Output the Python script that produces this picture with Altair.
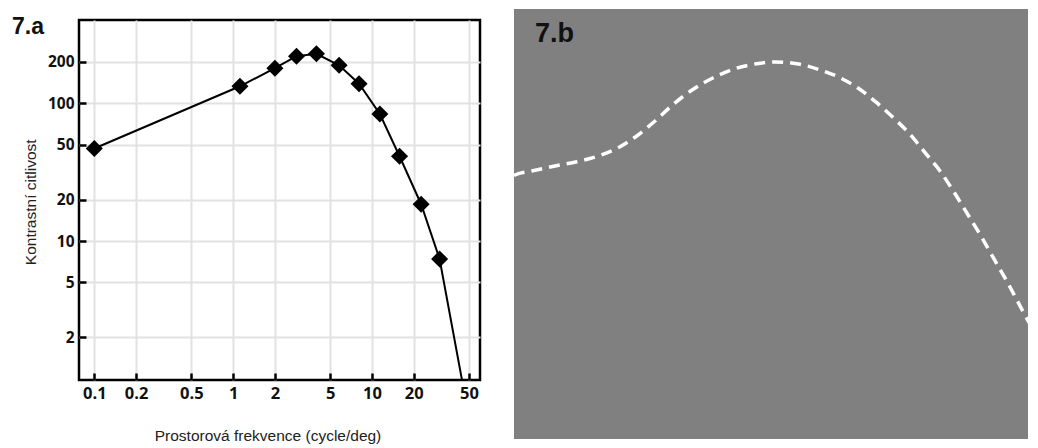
import altair as alt
import pandas as pd

# ---- 7.a : contrast sensitivity function (log-log) ----
freq = [0.1, 1.12, 2.0, 2.86, 3.98, 5.8, 8.07, 11.4, 15.8, 22.6, 30.7]
sens = [47, 133, 180, 220, 229, 189, 139, 83.6, 41.3, 18.5, 7.4]
tail_freq = [44.5]
tail_sens = [0.98]

x_ticks = [0.1, 0.2, 0.5, 1, 2, 5, 10, 20, 50]
y_ticks = [2, 5, 10, 20, 50, 100, 200]

x_title = "Prostorová frekvence (cycle/deg)"
y_title = "Kontrastní citlivost"
label_a = ["7.a"]
label_b = ["7.b"]

# ---- 7.b : dashed CSF curve over the grating (percent of panel) ----
curve_x = [0.0, 0.19, 3.38, 7.82, 11.97, 16.09, 19.90, 23.42, 26.91, 30.40, 33.91,
           38.03, 42.18, 46.32, 49.81, 53.95, 58.07, 62.21, 65.71, 69.22, 72.39,
           75.57, 78.44, 81.30, 83.84, 86.39, 88.93, 91.47, 94.03, 96.24, 98.47, 99.62]
curve_y = [38.95, 38.84, 37.95, 36.83, 35.87, 34.60, 32.74, 30.13, 26.79, 23.06, 19.93,
           17.12, 15.11, 14.00, 13.62, 14.00, 15.25, 17.12, 19.49, 22.70, 26.05,
           29.75, 33.86, 37.95, 42.41, 47.25, 52.08, 57.30, 62.50, 67.34, 72.17, 74.55]

pts = pd.DataFrame({"f": freq, "s": sens})
line_df = pd.DataFrame({"f": freq + tail_freq, "s": sens + tail_sens})
la_df = pd.DataFrame({"t": label_a})
lb_df = pd.DataFrame({"t": label_b})
curve_df = pd.DataFrame({"cx": curve_x, "cy": curve_y})

xs = alt.Scale(type="log", domain=[0.0776, 60.0], nice=False)
ys = alt.Scale(type="log", domain=[0.978, 403], nice=False)

x_axis = alt.Axis(
    values=x_ticks, format="~g", grid=True, gridColor="#e2e2e2", gridWidth=2,
    domain=False, tickSize=7, tickWidth=2.5, tickColor="black", offset=-7,
    labelFont="Open Sans", labelFontWeight="bold", labelFontSize=16.5,
    labelColor="#111111", labelPadding=5.5, labelFlush=False, labelOverlap=False,
    title=x_title, titleFont="Liberation Sans", titleFontSize=15.5,
    titleFontWeight="normal", titleColor="#222222",
    titleX=188.5, titleY=67, titleAlign="center", titleBaseline="alphabetic",
)
y_axis = alt.Axis(
    values=y_ticks, format="~g", grid=True, gridColor="#e2e2e2", gridWidth=2,
    domain=False, tickSize=7, tickWidth=2.5, tickColor="black", offset=-7,
    labelFont="Open Sans", labelFontWeight="bold", labelFontSize=15.5,
    labelColor="#111111", labelPadding=5, labelFlush=False, labelOverlap=False,
    title=y_title, titleFont="Liberation Sans", titleFontSize=15.5,
    titleFontWeight="normal", titleColor="#222222",
    titleX=-51, titleY=181.8, titleAngle=270, titleAlign="center",
    titleBaseline="alphabetic",
)

X = alt.X("f:Q", scale=xs, axis=x_axis)
Y = alt.Y("s:Q", scale=ys, axis=y_axis)

extender = alt.Chart(la_df).mark_rule(color="white", strokeWidth=1).encode(
    x=alt.value(-68.5), x2=alt.value(-60), y=alt.value(-10)
)
line = alt.Chart(line_df).mark_line(color="black", strokeWidth=2, clip=True).encode(x=X, y=Y)
marks = alt.Chart(pts).mark_point(
    shape="diamond", filled=True, size=290, color="black", opacity=1
).encode(x=X, y=Y)
text_a = alt.Chart(la_df).mark_text(
    align="left", baseline="alphabetic", font="Liberation Sans",
    fontWeight="bold", fontSize=23, color="#111111"
).encode(x=alt.value(-67), y=alt.value(13.7), text="t:N")

left = alt.layer(extender, line, marks, text_a).properties(
    width=401, height=360,
    view=alt.ViewBackground(stroke="black", strokeWidth=2.5, fill="white"),
)

# grey grating panel (background strip reaching the top edge)
panel = alt.Chart(lb_df).mark_rect(color="#808080").encode(
    x=alt.value(0), x2=alt.value(514), y=alt.value(-11), y2=alt.value(419)
)
curve = alt.Chart(curve_df).mark_line(
    color="white", strokeWidth=3.5, strokeDash=[11, 7], clip=True,
    interpolate="monotone"
).encode(
    x=alt.X("cx:Q", scale=alt.Scale(domain=[0, 98.09], nice=False, zero=False), axis=None),
    y=alt.Y("cy:Q", scale=alt.Scale(domain=[4.241, 97.768], reverse=True, nice=False, zero=False), axis=None),
)
text_b = alt.Chart(lb_df).mark_text(
    align="left", baseline="alphabetic", font="Liberation Sans",
    fontWeight="bold", fontSize=27, color="#111111"
).encode(x=alt.value(21), y=alt.value(22), text="t:N")

right = alt.layer(panel, curve, text_b).properties(
    width=514, height=419,
    view=alt.ViewBackground(fill="#808080", strokeWidth=0),
)

chart = alt.concat(left, right, columns=2, align="none", spacing=32).properties(
    padding=0, background="white"
).configure_view(strokeWidth=0)

chart.save("out.html", embed_options={"renderer": "svg", "actions": False})
